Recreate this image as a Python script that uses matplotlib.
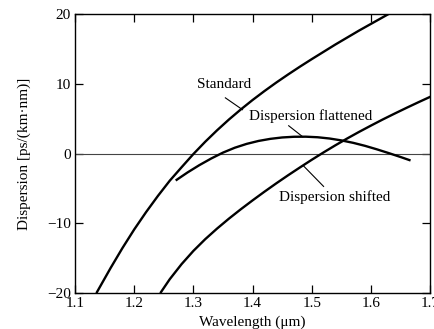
import matplotlib.pyplot as plt

plt.rcParams['font.family'] = 'Liberation Serif'

# wavelength (um) / dispersion (ps/(km nm)) for the three fibre types
std_wl = [1.136, 1.16, 1.18, 1.20, 1.22, 1.24, 1.26, 1.28, 1.30, 1.32, 1.34, 1.36,
          1.38, 1.40, 1.42, 1.44, 1.46, 1.48, 1.50, 1.52, 1.54, 1.56, 1.58, 1.60,
          1.62, 1.64]
std_d = [-20.0, -16.4, -13.54, -10.86, -8.38, -6.06, -3.88, -1.95, -0.05, 1.71,
         3.35, 4.89, 6.33, 7.69, 8.97, 10.19, 11.35, 12.47, 13.55, 14.6, 15.65,
         16.65, 17.65, 18.6, 19.55, 20.5]

flat_wl = [1.270, 1.29, 1.31, 1.33, 1.35, 1.37, 1.39, 1.41, 1.43, 1.45, 1.47,
           1.49, 1.51, 1.53, 1.55, 1.57, 1.59, 1.61, 1.63, 1.65, 1.667]
flat_d = [-3.85, -2.70, -1.65, -0.70, 0.15, 0.85, 1.40, 1.82, 2.12, 2.32, 2.42,
          2.43, 2.35, 2.17, 1.90, 1.55, 1.12, 0.62, 0.08, -0.48, -0.98]

shift_wl = [1.244, 1.26, 1.28, 1.30, 1.32, 1.34, 1.36, 1.38, 1.40, 1.42, 1.44,
            1.46, 1.48, 1.50, 1.52, 1.54, 1.56, 1.58, 1.60, 1.62, 1.64, 1.66,
            1.68, 1.70, 1.705]
shift_d = [-20.0, -18.0, -15.84, -13.94, -12.26, -10.74, -9.32, -7.98, -6.70,
           -5.46, -4.26, -3.10, -1.98, -0.88, 0.18, 1.20, 2.18, 3.12, 4.02, 4.90,
           5.74, 6.56, 7.36, 8.14, 8.33]

labels = ['Standard', 'Dispersion flattened', 'Dispersion shifted']
label_xy = [(1.352, 9.9), (1.498, 5.4), (1.539, -6.3)]
leaders = [((1.354, 1.383), (8.0, 6.3)),
           ((1.461, 1.485), (4.0, 2.4)),
           ((1.520, 1.486), (-4.7, -1.75))]

xticks = [1.1, 1.2, 1.3, 1.4, 1.5, 1.6, 1.7]
yticks = [-20, -10, 0, 10, 20]

fig = plt.figure(figsize=(4.34, 3.29), dpi=100)
ax = fig.add_axes([0.173, 0.109, 0.818, 0.848])

ax.axhline(0, color='#444444', lw=0.8)
for wl, d in [(std_wl, std_d), (flat_wl, flat_d), (shift_wl, shift_d)]:
    ax.plot(wl, d, color='black', lw=1.7, solid_capstyle='butt')

for txt, (x, y), (lx, ly) in zip(labels, label_xy, leaders):
    ax.text(x, y, txt, fontsize=11, ha='center', va='center')
    ax.plot(lx, ly, color='black', lw=0.8)

ax.set_xlim(1.1, 1.7)
ax.set_ylim(-20, 20)
ax.set_xticks(xticks)
ax.set_xticklabels([f'{t:.1f}' for t in xticks])
ax.set_yticks(yticks)
ax.set_yticklabels(['\u221220', '\u221210', '0', '10', '20'])
ax.tick_params(direction='in', length=6, width=0.9, top=True, right=True,
               labelsize=11, pad=3)
for s in ax.spines.values():
    s.set_linewidth(1.0)

ax.set_xlabel('Wavelength (\u03bcm)', fontsize=11)
ax.set_ylabel('Dispersion [ps/(km\u00b7nm)]', fontsize=11)
ax.xaxis.set_label_coords(0.5, -0.08)
ax.yaxis.set_label_coords(-0.125, 0.5)

fig.savefig('out.png', dpi=100)
